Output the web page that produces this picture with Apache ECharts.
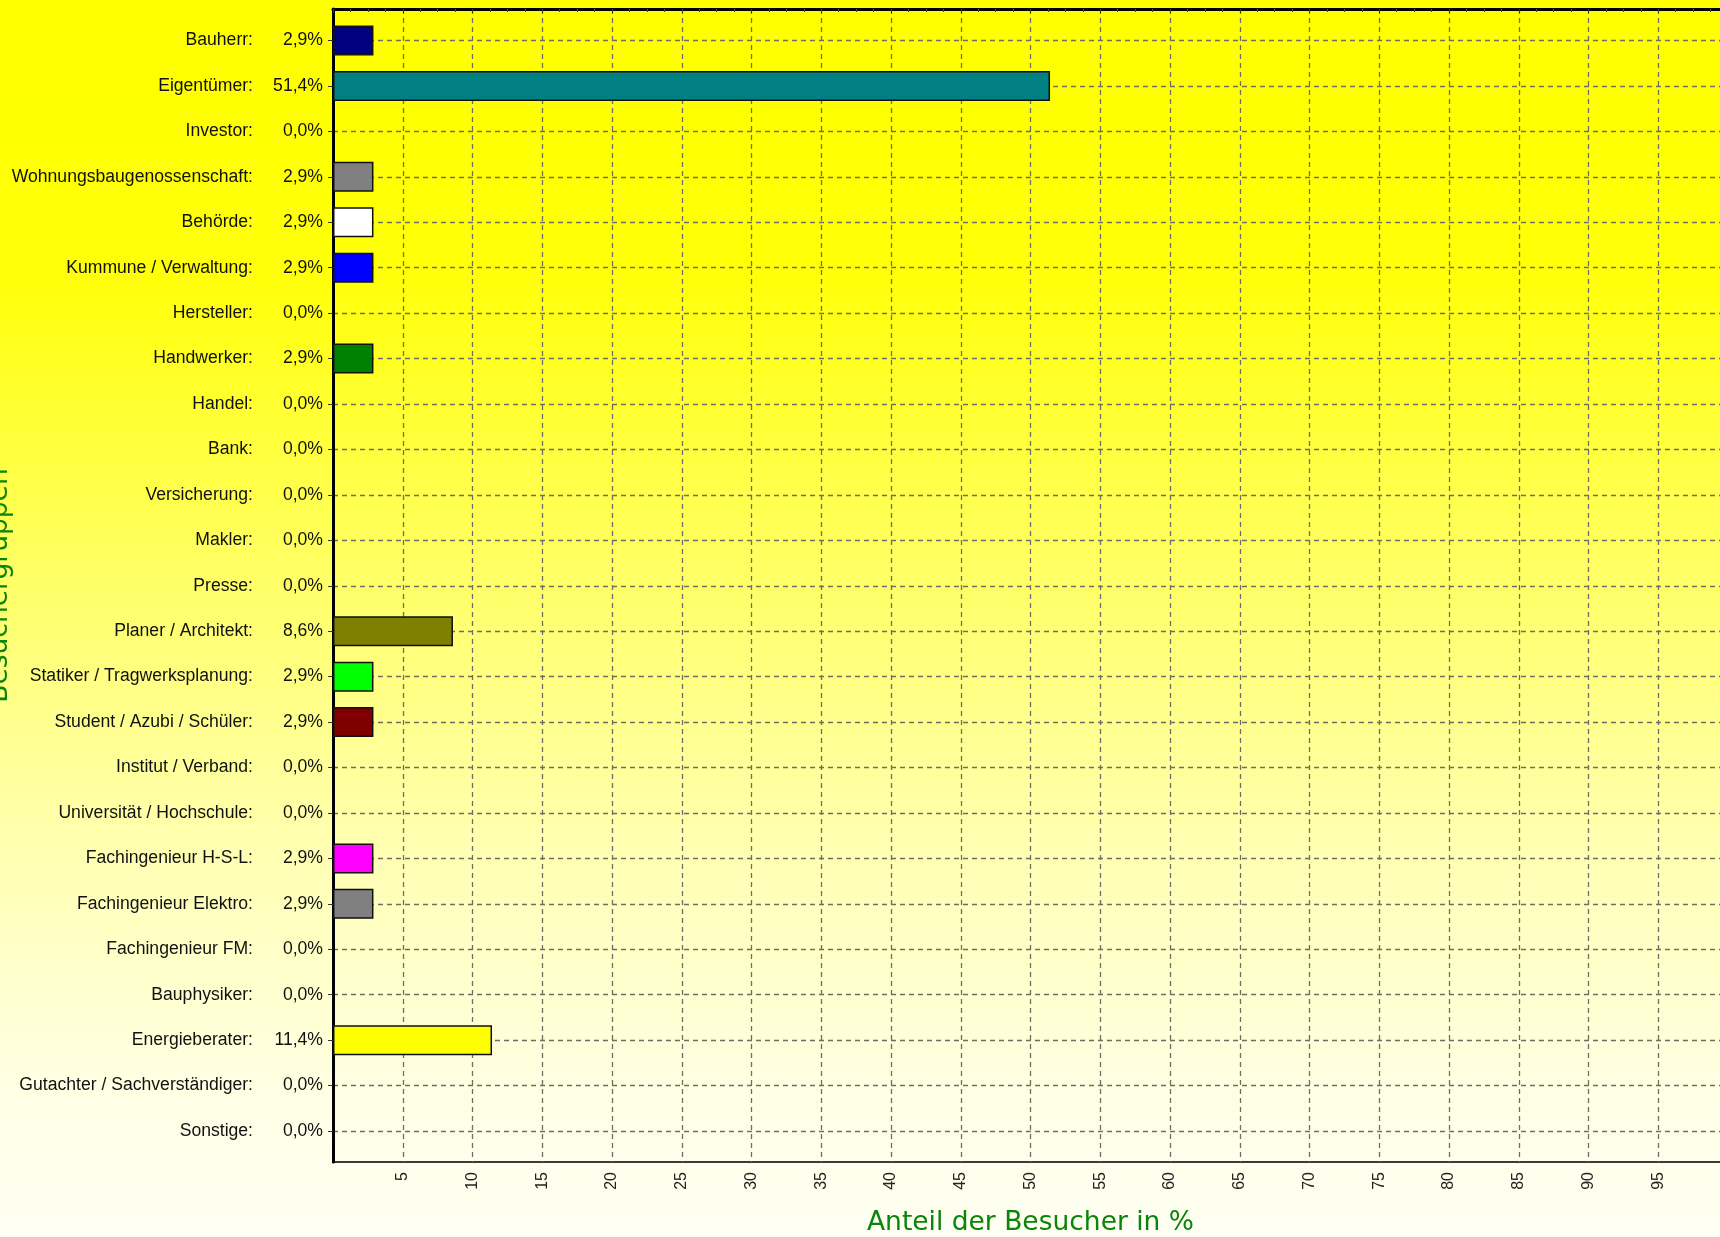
<!DOCTYPE html>
<html>
<head>
<meta charset="utf-8">
<script src="https://cdn.jsdelivr.net/npm/echarts@6/dist/echarts.min.js"></script>
<style>
html,body{margin:0;padding:0;}
#chart{width:1720px;height:1237px;background:linear-gradient(to bottom,#ffff00 0%,#ffff08 22%,#ffff60 45%,#ffffb0 68%,#ffffe4 88%,#fffff4 100%);}
</style>
</head>
<body>
<div id="chart"></div>
<script>
const categories = [
  "Bauherr","Eigentümer","Investor","Wohnungsbaugenossenschaft","Behörde",
  "Kummune / Verwaltung","Hersteller","Handwerker","Handel","Bank",
  "Versicherung","Makler","Presse","Planer / Architekt","Statiker / Tragwerksplanung",
  "Student / Azubi / Schüler","Institut / Verband","Universität / Hochschule","Fachingenieur H-S-L","Fachingenieur Elektro",
  "Fachingenieur FM","Bauphysiker","Energieberater","Gutachter / Sachverständiger","Sonstige"
];
const values = [
  2.9, 51.4, 0.0, 2.9, 2.9,
  2.9, 0.0, 2.9, 0.0, 0.0,
  0.0, 0.0, 0.0, 8.6, 2.9,
  2.9, 0.0, 0.0, 2.9, 2.9,
  0.0, 0.0, 11.4, 0.0, 0.0
];
const barColors = [
  "#000080","#008080","#ffffff","#808080","#ffffff",
  "#0000ff","#ffffff","#008000","#ffffff","#ffffff",
  "#ffffff","#ffffff","#ffffff","#808000","#00ff00",
  "#800000","#ffffff","#ffffff","#ff00ff","#808080",
  "#ffffff","#ffffff","#ffff00","#ffffff","#ffffff"
];
const xTickLabels = ["5","10","15","20","25","30","35","40","45","50","55","60","65","70","75","80","85","90","95"];
const xTitle = "Anteil der Besucher in %";
const yTitle = "Besuchergruppen";

const fmtPct = v => v.toFixed(1).replace('.', ',') + '%';
const valueByName = {};
categories.forEach((c, i) => valueByName[c] = values[i]);

const chart = echarts.init(document.getElementById('chart'), null, {renderer: 'canvas'});
const gridLine = {show: true, lineStyle: {color: '#6e6e62', width: 1.3, type: [5, 4]}};
const labelFont = 'Liberation Sans, Arial, sans-serif';
const option = {
  backgroundColor: 'transparent',
  animation: false,
  grid: [
    {left: 333, width: 1395, top: 40.5, bottom: 106, containLabel: false, outerBoundsMode: 'none'},
    {left: 333, width: 1395, top: 9, bottom: 75, containLabel: false, outerBoundsMode: 'none',
      show: true, borderColor: '#3a3a3a', borderWidth: 2, backgroundColor: 'transparent'}
  ],
  xAxis: [
    {gridIndex: 0, type: 'value', min: 0, max: 100, show: false},
    {gridIndex: 1, type: 'value', min: 0, max: 100, interval: 5,
      axisLine: {show: true, lineStyle: {color: '#000', width: 3}},
      axisTick: {show: true, length: 4, lineStyle: {color: '#333'}},
      minorTick: {show: true, splitNumber: 4, length: 3, lineStyle: {color: '#444'}},
      splitLine: gridLine,
      axisLabel: {show: true, rotate: 90, margin: 10, showMinLabel: false, showMaxLabel: false,
        fontFamily: labelFont, fontSize: 16, color: '#222',
        formatter: v => { const s = String(v); return xTickLabels.indexOf(s) >= 0 ? s : ''; }},
      name: xTitle, nameLocation: 'middle', nameGap: 48,
      nameTextStyle: {fontFamily: 'DejaVu Sans, sans-serif', fontSize: 26.5, color: '#0a840a'}
    }
  ],
  yAxis: [
    {gridIndex: 0, type: 'category', data: categories, inverse: true, boundaryGap: false,
      axisLine: {show: false},
      axisTick: {show: true, length: 5, lineStyle: {color: '#333'}},
      splitLine: gridLine,
      axisLabel: {margin: 10, interval: 0,
        formatter: name => '{n|' + name + ':}{v|' + fmtPct(valueByName[name]) + '}',
        rich: {
          n: {fontFamily: labelFont, fontSize: 17.6, color: '#111'},
          v: {fontFamily: labelFont, fontSize: 17.6, color: '#111', width: 70, align: 'right'}
        }}
    },
    {gridIndex: 1, type: 'value', min: 0, max: 1, inverse: true,
      axisLine: {show: true, lineStyle: {color: '#000', width: 3}},
      axisTick: {show: false}, axisLabel: {show: false}, splitLine: {show: false},
      name: yTitle, nameLocation: 'middle', nameRotate: 90, nameGap: 319,
      nameTextStyle: {fontFamily: 'DejaVu Sans, sans-serif', fontSize: 26.5, color: '#0a840a'}
    }
  ],
  series: [{
    type: 'bar', xAxisIndex: 0, yAxisIndex: 0, clip: false,
    barWidth: 30,
    data: values.map((v, i) => ({value: v, itemStyle: {color: barColors[i], borderWidth: v > 0 ? 1.5 : 0}})),
    itemStyle: {borderColor: '#111'},
    z: 3
  }]
};
chart.setOption(option);
</script>
</body>
</html>
